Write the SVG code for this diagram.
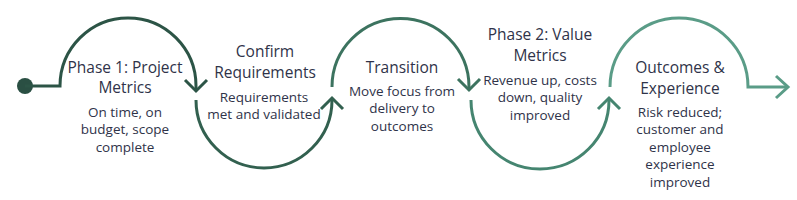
<svg xmlns="http://www.w3.org/2000/svg" width="797" height="200" viewBox="0 0 797 200">
<style>
.c{fill:none;stroke-width:3;stroke-linecap:butt;stroke-linejoin:miter}
.t{font-family:"Open Sans","Liberation Sans",sans-serif;font-size:15.5px;fill:#2f3349;text-anchor:middle}
.b{font-family:"Open Sans","Liberation Sans",sans-serif;font-size:13.5px;fill:#2f3349;text-anchor:middle}
</style>
<rect width="797" height="200" fill="#ffffff"/>
<g id="connectors">
<circle cx="25" cy="86" r="8" fill="#2a4f43"/>
<path class="c" stroke="#2c5446" d="M25,86 H60 A68,68 0 0 1 196,86 V91"/>
<path class="c" stroke="#2c5446" d="M185,80 L196,91 L207,80"/>
<path class="c" stroke="#32604f" d="M196,100 A68,68 0 0 0 332,100 V98"/>
<path class="c" stroke="#32604f" d="M321,109 L332,98 L343,109"/>
<path class="c" stroke="#3c735f" d="M332,87 A68,68 0 0 1 469,87 V90"/>
<path class="c" stroke="#3c735f" d="M458,79 L469,90 L480,79"/>
<path class="c" stroke="#458570" d="M471,100 A69,69 0 0 0 609,100 V98"/>
<path class="c" stroke="#458570" d="M598,109 L609,98 L620,109"/>
<path class="c" stroke="#5a9c87" d="M610,87 A69,69 0 0 1 748,87 H787"/>
<path class="c" stroke="#5a9c87" d="M776,76 L788,87 L776,98"/>
</g>
<g id="phase1">
<text class="t" x="125" y="73">Phase 1: Project</text>
<text class="t" x="125" y="93">Metrics</text>
<text class="b" x="125" y="117">On time, on</text>
<text class="b" x="125" y="134">budget, scope</text>
<text class="b" x="125" y="152">complete</text>
</g>
<g id="confirm">
<text class="t" x="265" y="57">Confirm</text>
<text class="t" x="265" y="78">Requirements</text>
<text class="b" x="264" y="102">Requirements</text>
<text class="b" x="264" y="119">met and validated</text>
</g>
<g id="transition">
<text class="t" x="402" y="73">Transition</text>
<text class="b" x="402" y="96">Move focus from</text>
<text class="b" x="402" y="113">delivery to</text>
<text class="b" x="402" y="131">outcomes</text>
</g>
<g id="phase2">
<text class="t" x="540" y="40">Phase 2: Value</text>
<text class="t" x="540" y="61">Metrics</text>
<text class="b" x="540" y="85">Revenue up, costs</text>
<text class="b" x="540" y="102">down, quality</text>
<text class="b" x="540" y="120">improved</text>
</g>
<g id="outcomes">
<text class="t" x="680" y="73">Outcomes &amp;</text>
<text class="t" x="680" y="94">Experience</text>
<text class="b" x="680" y="117">Risk reduced;</text>
<text class="b" x="680" y="134">customer and</text>
<text class="b" x="680" y="152">employee</text>
<text class="b" x="680" y="169">experience</text>
<text class="b" x="680" y="187">improved</text>
</g>
</svg>
